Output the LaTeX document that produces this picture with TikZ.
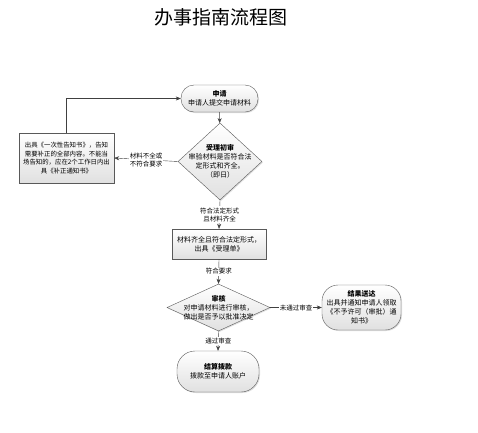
\documentclass[tikz,border=0pt]{standalone}
\usepackage{fontspec}
\setmainfont{Noto Sans CJK SC}
\usetikzlibrary{shapes.geometric,arrows.meta,shadows}

\tikzset{
  box/.style={draw=black!65, top color=white, bottom color=black!12, drop shadow={shadow xshift=1pt,shadow yshift=-1pt,opacity=.25}, inner sep=1pt, align=center, font=\fontsize{7}{9}\selectfont},
  terminal/.style={box, rounded corners=16pt},
  decision/.style={box, diamond, inner sep=0pt},
  txt/.style={align=center, inner sep=0pt, font=\fontsize{7}{9}\selectfont},
  lab/.style={fill=white, inner sep=1pt, align=center, font=\fontsize{6.5}{8}\selectfont},
  line/.style={draw=black!75, -{Stealth[length=5pt,width=4pt]}}
}

\begin{document}
\begin{tikzpicture}[x=1pt,y=-1pt]
\useasboundingbox [fill=white] (0,0) rectangle (478,432);

\node (title) at (221,17) {\fontsize{19}{19}\selectfont 办事指南流程图};

\node [terminal, rounded corners=13pt, minimum width=77pt, minimum height=27pt] (apply) at (219.5,98.5) {\textbf{申请}\\申请人提交申请材料};

\node [decision, minimum width=84pt, minimum height=77pt] (check) at (220,161.5) {};
\node [txt] (check-t) at (check) {\textbf{受理初审}\\审验材料是否符合法\\定形式和齐全。\\（即日）};

\node [box, minimum width=95pt, minimum height=50pt, font=\fontsize{6.4}{8.5}\selectfont] (notice) at (66.5,158) {出具《一次性告知书》，告知\\需要补正的全部内容。不能当\\场告知的，应在2个工作日内出\\具《补正通知书》};

\node [box, minimum width=94pt, minimum height=30pt] (accept) at (219,244) {材料齐全且符合法定形式，\\出具《受理单》};

\node [decision, minimum width=103pt, minimum height=47pt] (review) at (218.5,307.5) {};
\node [txt] (review-t) at (review) {\textbf{审核}\\对申请材料进行审核，\\做出是否予以批准决定};

\node [terminal, minimum width=79pt, minimum height=45pt] (reject) at (361.5,307.5) {\textbf{结果送达}\\出具并通知申请人领取\\《不予许可（审批）通\\知书》};

\node [terminal, rounded corners=18pt, minimum width=82pt, minimum height=41pt] (pay) at (218,371.5) {\textbf{结算拨款}\\拨款至申请人账户};

% connectors
\draw [line] (apply) -- (check);
\draw [line] (check.west) -- node [lab] {材料不全或\\不符合要求} (notice.east);
\draw [line] (notice.north) |- (apply.west);
\draw [line] (check.south) -- node [lab] {符合法定形式\\且材料齐全} (accept.north);
\draw [line] (accept.south) -- node [lab] {符合要求} (review.north);
\draw [line] (review.east) -- node [lab] {未通过审查} (reject.west);
\draw [line] (review.south) -- node [lab] {通过审查} (pay.north);
\end{tikzpicture}
\end{document}
